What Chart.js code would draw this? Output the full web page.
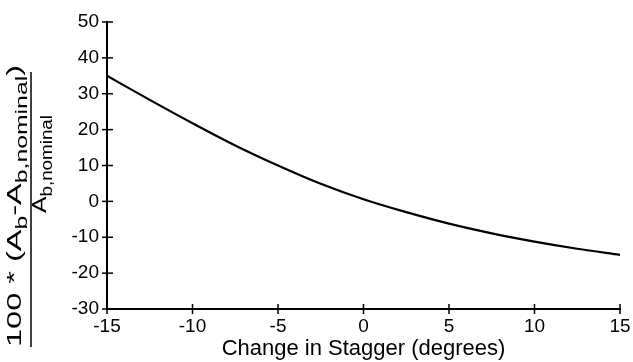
<!DOCTYPE html>
<html>
<head>
<meta charset="utf-8">
<script src="https://cdn.jsdelivr.net/npm/chart.js@4"></script>
<style>
  html, body { margin: 0; padding: 0; background: #fff; }
  canvas { display: block; }
</style>
</head>
<body>
<canvas id="graficoStagger" width="633" height="362"></canvas>
<script>
// valores
const staggerChange = [-15, -12.5, -10, -7.5, -5, -2.5, 0, 2.5, 5, 7.5, 10, 12.5, 15];
const areaChangePct = [35.0, 28.3, 21.8, 15.6, 10.0, 4.9, 0.6, -3.0, -6.2, -8.9, -11.2, -13.2, -14.9];
const xTicks = [-15, -10, -5, 0, 5, 10, 15];
const yTicks = [-30, -20, -10, 0, 10, 20, 30, 40, 50];

const FONT = '"Liberation Sans", Arial, Helvetica, sans-serif';

// rotulo do eixo y (fracao com subscritos)
const yLabelNum = [{ t: '100 * (A' }, { t: 'b', sub: true }, { t: '-A' }, { t: 'b,nominal', sub: true }, { t: ')' }];
const yLabelDen = [{ t: 'A' }, { t: 'b,nominal', sub: true }];

function drawRich(ctx, parts, x0, baseY, targetLen, size) {
  const subSize = Math.round(size * 0.75);
  let w = 0;
  parts.forEach(p => {
    ctx.font = `${p.sub ? subSize : size}px ${FONT}`;
    w += ctx.measureText(p.t).width;
  });
  const k = targetLen / w;
  ctx.save();
  ctx.translate(x0, baseY);
  ctx.scale(k, 1);
  let x = 0;
  parts.forEach(p => {
    ctx.font = `${p.sub ? subSize : size}px ${FONT}`;
    ctx.fillText(p.t, x, p.sub ? size * 0.28 : 0);
    x += ctx.measureText(p.t).width;
  });
  ctx.restore();
}

const crossTicks = {
  id: 'crossTicks',
  afterDraw(chart) {
    const ctx = chart.ctx;
    const { left, bottom } = chart.chartArea;
    const xs = chart.scales.x, ys = chart.scales.y;
    ctx.save();
    ctx.strokeStyle = '#000';
    ctx.lineWidth = 1.5;
    xs.ticks.forEach(t => {
      const px = xs.getPixelForValue(t.value);
      ctx.beginPath(); ctx.moveTo(px, bottom - 5); ctx.lineTo(px, bottom + 5); ctx.stroke();
    });
    ys.ticks.forEach(t => {
      const py = ys.getPixelForValue(t.value);
      ctx.beginPath(); ctx.moveTo(left - 5, py); ctx.lineTo(left + 6, py); ctx.stroke();
    });
    ctx.restore();
  }
};

const yTitle = {
  id: 'yTitle',
  afterDraw(chart) {
    const ctx = chart.ctx;
    ctx.save();
    ctx.fillStyle = '#000';
    ctx.textBaseline = 'alphabetic';
    ctx.rotate(-Math.PI / 2);
    drawRich(ctx, yLabelNum, -347, 21, 282, 21);
    drawRich(ctx, yLabelDen, -213, 46, 98, 21);
    ctx.restore();
    ctx.save();
    ctx.strokeStyle = '#000';
    ctx.lineWidth = 1.5;
    ctx.beginPath(); ctx.moveTo(31, 72); ctx.lineTo(31, 347); ctx.stroke();
    ctx.restore();
  }
};

function renderGrafico() {
  const ctx = document.getElementById('graficoStagger');
  new Chart(ctx, {
    type: 'line',
    data: {
      datasets: [{
        data: staggerChange.map((x, i) => ({ x, y: areaChangePct[i] })),
        borderColor: '#000',
        borderWidth: 2.2,
        pointRadius: 0,
        cubicInterpolationMode: 'monotone',
        fill: false
      }]
    },
    options: {
      responsive: false,
      animation: false,
      devicePixelRatio: 1,
      layout: { padding: { left: 0, right: 13, top: 22, bottom: 0 } },
      plugins: { legend: { display: false }, tooltip: { enabled: false } },
      scales: {
        x: {
          type: 'linear',
          min: -15, max: 15,
          afterBuildTicks: s => { s.ticks = xTicks.map(v => ({ value: v })); },
          afterFit: s => { s.height = 53; s.paddingRight = 13; s.paddingLeft = 0; },
          grid: { display: false, drawTicks: false },
          border: { display: true, color: '#000', width: 2 },
          ticks: { color: '#000', padding: 6, maxRotation: 0, font: { family: FONT, size: 19 } },
          title: {
            display: true,
            text: 'Change in Stagger (degrees)',
            color: '#000',
            padding: { top: 0, bottom: 0 },
            font: { family: FONT, size: 22 }
          }
        },
        y: {
          min: -30, max: 50,
          afterBuildTicks: s => { s.ticks = yTicks.map(v => ({ value: v })); },
          afterFit: s => { s.width = 107; s.paddingTop = 22; s.paddingBottom = 0; },
          grid: { display: false, drawTicks: false },
          border: { display: true, color: '#000', width: 2 },
          ticks: { color: '#000', padding: 8, font: { family: FONT, size: 19 } }
        }
      }
    },
    plugins: [crossTicks, yTitle]
  });
}

renderGrafico();
</script>
</body>
</html>
